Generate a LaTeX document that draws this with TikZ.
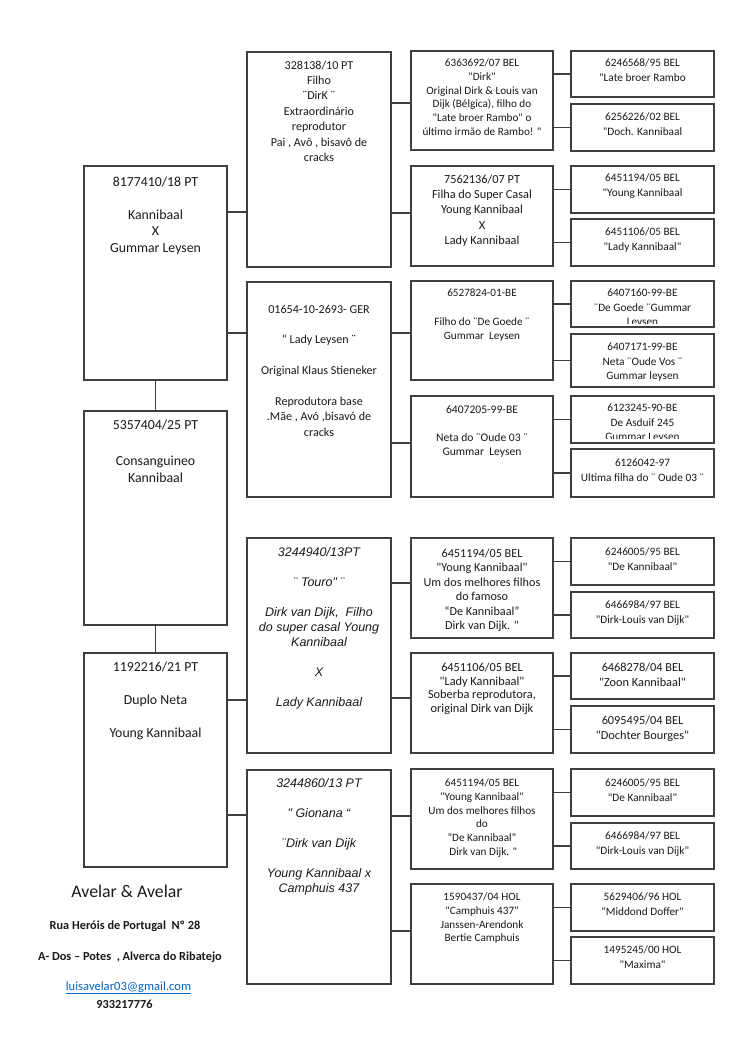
\documentclass[tikz,border=0pt]{standalone}
\usepackage{fontspec}
\setmainfont{Carlito}[Ligatures=TeXOff]
\newfontfamily\arialf{Liberation Sans}
\definecolor{ln}{HTML}{3F3F3F}
\definecolor{tx}{HTML}{1A1A1A}
\definecolor{mail}{HTML}{0563C1}
\newcommand\mybox[5]{\node[box, minimum width={(#4-#2)*1pt}, minimum height={(#5-#3)*1pt}] (#1) at ({(#2+#4)/2},{(#3+#5)/2}) {};}
\begin{document}
\begin{tikzpicture}[x=1pt, y=-1pt,
  box/.style={draw=ln, line width=1.2pt, inner sep=0pt, outer sep=0pt, fill=white},
  conn/.style={draw=ln, line width=1.2pt},
  tt/.style={align=center, inner sep=0pt, anchor=north, text=tx},
  t1/.style={tt, font=\fontsize{13.8}{16.4}\selectfont},
  t2/.style={tt, font=\fontsize{12.1}{15.4}\selectfont},
  t2i/.style={tt, font=\arialf\itshape\fontsize{12.5}{15}\selectfont},
  t3/.style={tt, font=\fontsize{11.2}{13.7}\selectfont},
  t3m/.style={tt, font=\fontsize{11.6}{14.3}\selectfont},
  t3b/.style={tt, font=\fontsize{12.3}{15.4}\selectfont},
  t4/.style={tt, font=\fontsize{11.3}{14.3}\selectfont},
  t4b/.style={tt, font=\fontsize{12.3}{15}\selectfont},
  ft/.style={anchor=base, inner sep=0pt, text=tx}
]
\fill[white] (0,0) rectangle (750,1060);
\useasboundingbox (0,0) rectangle (750,1060);

% generation 1
\mybox{A}{84}{166}{227}{380}
\mybox{B}{84}{411}{227}{625}
\mybox{C}{84}{653}{227}{867}
% generation 2
\mybox{P1}{247}{52}{391}{267}
\mybox{P2}{247}{282}{391}{497}
\mybox{P3}{247}{538}{391}{753}
\mybox{P4}{247}{770}{391}{984}
% generation 3
\mybox{g1}{411}{51}{553}{150}
\mybox{g2}{411}{166}{553}{266}
\mybox{g3}{411}{281}{553}{380}
\mybox{g4}{411}{396}{553}{497}
\mybox{g5}{411}{538}{553}{638}
\mybox{g6}{411}{653}{553}{753}
\mybox{g7}{411}{769}{553}{869}
\mybox{g8}{411}{884}{553}{984}
% generation 4
\mybox{h1}{571}{51}{714}{97}
\mybox{h2}{571}{104}{714}{151}
\mybox{h3}{571}{166}{714}{213}
\mybox{h4}{571}{219}{714}{266}
\mybox{h5}{571}{281}{714}{327}
\mybox{h6}{571}{334}{714}{387}
\mybox{h7}{571}{396}{714}{443}
\mybox{h8}{571}{449}{714}{497}
\mybox{h9}{571}{538}{714}{585}
\mybox{h10}{571}{592}{714}{638}
\mybox{h11}{571}{653}{714}{699}
\mybox{h12}{571}{706}{714}{753}
\mybox{h13}{571}{769}{714}{816}
\mybox{h14}{571}{823}{714}{869}
\mybox{h15}{571}{884}{714}{931}
\mybox{h16}{571}{937}{714}{984}

% connector levels
\coordinate (y212) at (0,212);
\coordinate (y333) at (0,333);
\coordinate (y700) at (0,700);
\coordinate (y815) at (0,815);
\coordinate (y103) at (0,103);
\coordinate (y213) at (0,213);
\coordinate (y443) at (0,443);
\coordinate (y583) at (0,583);
\coordinate (y698) at (0,698);
\coordinate (y816) at (0,816);
\coordinate (y931) at (0,931);

% connectors
\draw[conn] (A.south) -- (B.north);
\draw[conn] (B.south) -- (C.north);
\draw[conn] (A.east |- y212) -- (P1.west |- y212);
\draw[conn] (A.east |- y333) -- (P2.west |- y333);
\draw[conn] (C.east |- y700) -- (P3.west |- y700);
\draw[conn] (C.east |- y815) -- (P4.west |- y815);
\draw[conn] (P1.east |- y103) -- (g1.west |- y103);
\draw[conn] (P1.east |- y213) -- (g2.west |- y213);
\draw[conn] (P2.east |- y333) -- (g3.west |- y333);
\draw[conn] (P2.east |- y443) -- (g4.west |- y443);
\draw[conn] (P3.east |- y583) -- (g5.west |- y583);
\draw[conn] (P3.east |- y698) -- (g6.west |- y698);
\draw[conn] (P4.east |- y816) -- (g7.west |- y816);
\draw[conn] (P4.east |- y931) -- (g8.west |- y931);
\foreach \g/\a/\b in {g1/h1/h2, g2/h3/h4, g3/h5/h6, g4/h7/h8, g5/h9/h10, g6/h11/h12, g7/h13/h14, g8/h15/h16}{
  \draw[conn] (\g.east |- \a.west) -- (\a.west);
  \draw[conn] (\g.east |- \b.west) -- (\b.west);
}

% generation 1 texts
\node[t1] (At) at (155.5,175) {\strut 8177410/18 PT\\[\baselineskip] Kannibaal\\ X\\ Gummar Leysen};
\node[t1] (Bt) at (155.5,418) {\strut 5357404/25 PT\\[19.6pt] Consanguineo\\ Kannibaal};
\node[t1] (Ct) at (155.5,660) {\strut 1192216/21 PT\\[\baselineskip] Duplo Neta\\[\baselineskip] Young Kannibaal};

% generation 2 texts
\node[t2] (P1t) at (319,58.2) {\strut 328138/10 PT\\ Filho\\ ¨DirK ¨\\ Extraordinário\\ reprodutor\\ Pai , Avô , bisavô de\\ cracks};
\node[t2] (P2t) at (319,302.2) {\strut 01654-10-2693- GER\\[\baselineskip] “ Lady Leysen ¨\\[\baselineskip] Original Klaus Stieneker\\[\baselineskip] Reprodutora base\\ .Mãe , Avó ,bisavó de\\ cracks};
\node[t2i] (P3t) at (319,545.6) {\strut 3244940/13PT\\[\baselineskip] ¨ Touro" ¨\\[\baselineskip] Dirk van Dijk,\ \ Filho\\ do super casal Young\\ Kannibaal\\[\baselineskip] X\\[\baselineskip] Lady Kannibaal};
\node[t2i] (P4t) at (319,776.6) {\strut 3244860/13 PT\\[\baselineskip] " Gionana “\\[\baselineskip] ¨Dirk van Dijk\\[\baselineskip] Young Kannibaal x\\ Camphuis 437};

% generation 3 texts
\node[t3] (g1t) at (482,57) {\strut 6363692/07 BEL\\ "Dirk"\\ Original Dirk \& Louis van\\ Dijk (Bélgica), filho do\\ "Late broer Rambo" o\\ último irmão de Rambo! "};
\node[t3b] (g2t) at (482,172.2) {\strut 7562136/07 PT\\ Filha do Super Casal\\ Young Kannibaal\\ X\\ Lady Kannibaal};
\node[t3] (g3t) at (482,287) {\strut 6527824-01-BE\\[15pt] Filho do ¨De Goede ¨\\ Gummar\ \ Leysen};
\node[t3m] (g4t) at (482,403) {\strut 6407205-99-BE\\[13.7pt] Neta do ¨Oude 03 ¨\\ Gummar\ \ Leysen};
\node[tt, font=\fontsize{12.2}{14.5}\selectfont] (g5t) at (482,546.8) {\strut 6451194/05 BEL\\ "Young Kannibaal"\\ Um dos melhores filhos\\ do famoso\\ “De Kannibaal”\\ Dirk van Dijk. "};
\node[tt, font=\fontsize{12.3}{13.9}\selectfont] (g6t) at (482,661.2) {\strut 6451106/05 BEL\\ "Lady Kannibaal"\\ Soberba reprodutora,\\ original Dirk van Dijk};
\node[t3] (g7t) at (482,777) {\strut 6451194/05 BEL\\ "Young Kannibaal"\\ Um dos melhores filhos\\ do\\ “De Kannibaal”\\ \ Dirk van Dijk. "};
\node[t3] (g8t) at (482,891) {\strut 1590437/04 HOL\\ "Camphuis 437"\\ Janssen-Arendonk\\ Bertie Camphuis};

% generation 4 texts
\node[t4] (h1t) at (642.5,56.6) {\strut 6246568/95 BEL\\ "Late broer Rambo};
\node[t4] (h2t) at (642.5,110.6) {\strut 6256226/02 BEL\\ "Doch. Kannibaal};
\node[t4] (h3t) at (642.5,171.6) {\strut 6451194/05 BEL\\ "Young Kannibaal};
\node[t4] (h4t) at (642.5,225.6) {\strut 6451106/05 BEL\\ "Lady Kannibaal"};
\begin{scope}
\clip (h5.north west) rectangle ([yshift=4pt]h5.south east);
\node[t4] (h5t) at (642.5,286.6) {\strut 6407160-99-BE\\ ¨De Goede ¨Gummar\\ Leysen};
\end{scope}
\node[t4] (h6t) at (642.5,340.6) {\strut 6407171-99-BE\\ Neta ¨Oude Vos ¨\\ Gummar leysen};
\begin{scope}
\clip (h7.north west) rectangle ([yshift=5pt]h7.south east);
\node[t4] (h7t) at (642.5,401.6) {\strut 6123245-90-BE\\ De Asduif 245\\ Gummar Leysen};
\end{scope}
\node[t4] (h8t) at (642.5,456.6) {\strut 6126042-97\\ Ultima filha do ¨ Oude 03 ¨};
\node[t4] (h9t) at (642.5,545.6) {\strut 6246005/95 BEL\\ "De Kannibaal"};
\node[t4] (h10t) at (642.5,598.6) {\strut 6466984/97 BEL\\ "Dirk-Louis van Dijk"};
\node[t4b] (h11t) at (642.5,660.4) {\strut 6468278/04 BEL\\ "Zoon Kannibaal"};
\node[t4b] (h12t) at (642.5,713.4) {\strut 6095495/04 BEL\\ "Dochter Bourges"};
\node[t4] (h13t) at (642.5,776.6) {\strut 6246005/95 BEL\\ "De Kannibaal"};
\node[t4] (h14t) at (642.5,829.6) {\strut 6466984/97 BEL\\ "Dirk-Louis van Dijk"};
\node[t4] (h15t) at (642.5,890.6) {\strut 5629406/96 HOL\\ "Middond Doffer"};
\node[t4] (h16t) at (642.5,943.6) {\strut 1495245/00 HOL\\ "Maxima"};

% footer
\node[ft, font=\fontsize{17.8}{21}\selectfont] (f1) at (127,897.7) {Avelar \& Avelar};
\node[ft, font=\bfseries\fontsize{12.3}{15}\selectfont] (f2) at (125,929) {Rua Heróis de Portugal\ \ Nº 28};
\node[ft, font=\bfseries\fontsize{12.3}{15}\selectfont] (f3) at (130,960) {A- Dos – Potes\ \ , Alverca do Ribatejo};
\node[ft, font=\fontsize{12.6}{15}\selectfont, text=mail] (f4) at (128.5,990) {\underline{luisavelar03@gmail.com}};
\node[ft, font=\bfseries\fontsize{12.3}{15}\selectfont] (f5) at (124.5,1008) {933217776};
\end{tikzpicture}
\end{document}
